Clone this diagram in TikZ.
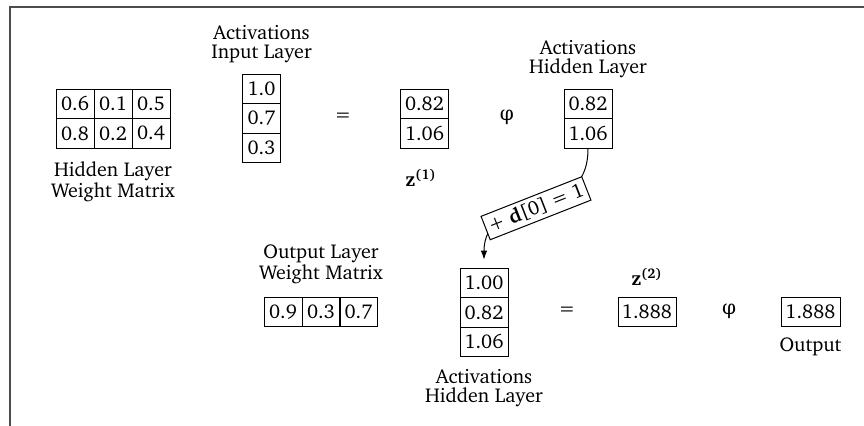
\documentclass[tikz,border=0pt]{standalone}
\usepackage{fontspec}
\newfontfamily\greekfont{DejaVu Serif}
\usepackage[T1]{fontenc}
\usepackage{charter}
\usetikzlibrary{arrows.meta}

\tikzset{
  cell/.style={draw, line width=0.5pt, rectangle, inner sep=0pt,
    minimum width=19pt, minimum height=14.8pt},
  wcell/.style={cell, minimum width=24pt},
  caption/.style={align=center, inner sep=0pt,
    font=\fontsize{10}{9.5}\selectfont},
  sym/.style={inner sep=0pt},
  tag/.style={draw, fill=white, line width=0.5pt, inner sep=1.8pt,
    minimum height=11.5pt},
  frameline/.style={draw=black!70, line width=0.8pt},
}

\begin{document}
\begin{tikzpicture}[x=0.5pt, y=-0.5pt, font=\fontsize{10}{11}\selectfont]
\useasboundingbox (0,0) rectangle (864,426);

% surrounding frame
\draw[frameline] (10,430) -- (10,7) -- (870,7);

% hidden layer weight matrix
\node[cell] (w11) at (75,104)   {0.6};
\node[cell] (w12) at (113,104)  {0.1};
\node[cell] (w13) at (151,104)  {0.5};
\node[cell] (w21) at (75,133.5) {0.8};
\node[cell] (w22) at (113,133.5){0.2};
\node[cell] (w23) at (151,133.5){0.4};
\node[caption] (wlab) at (113,182) {Hidden Layer\\Weight Matrix};

% input activations
\node[cell] (x1) at (261.5,89)    {1.0};
\node[cell] (x2) at (261.5,118.5) {0.7};
\node[cell] (x3) at (261.5,148)   {0.3};
\node[caption] (xlab) at (261.5,44) {Activations\\Input Layer};

\node[sym] (eq1) at (343,117) {=};

% pre-activation of the hidden layer
\node[wcell] (z11) at (424.5,104)   {0.82};
\node[wcell] (z12) at (424.5,133.5) {1.06};
\node[sym] (z1lab) at (421,178) {\textbf{z}\textsuperscript{\textbf{(1)}}};

\node[sym] (phi1) at (507,117) {\greekfont φ};

% hidden activations
\node[wcell] (h1) at (588,104)   {0.82};
\node[wcell] (h2) at (588,133.5) {1.06};
\node[caption] (hlab) at (588,58.5) {Activations\\Hidden Layer};

% output layer weight matrix
\node[cell] (v1) at (283,312)   {0.9};
\node[cell] (v2) at (321,312)   {0.3};
\node[cell] (v3) at (358.5,312) {0.7};
\node[caption] (vlab) at (321,264) {Output Layer\\Weight Matrix};

% hidden activations with bias entry
\node[wcell] (d1) at (484,283)   {1.00};
\node[wcell] (d2) at (484,312.5) {0.82};
\node[wcell] (d3) at (484,342)   {1.06};
\node[caption] (dlab) at (484,388) {Activations\\Hidden Layer};

\node[sym] (eq2) at (567,311) {=};

% output pre-activation
\node[cell, minimum width=29pt] (z2) at (647,312) {1.888};
\node[sym] (z2lab) at (647,277) {\textbf{z}\textsuperscript{\textbf{(2)}}};

\node[sym] (phi2) at (729,311) {\greekfont φ};

% network output
\node[cell, minimum width=29.5pt] (out) at (810.5,312) {1.888};
\node[caption] (olab) at (810.5,347) {Output};

% bias insertion
\draw[line width=0.5pt, -{Latex[length=4.5pt,width=3.2pt]}, shorten >=4pt]
  (h2.south) .. controls +(0,78) and +(0,-78) .. (d1.north)
  node[tag, midway, sloped] {+ \textbf{d}[0] = 1};
\end{tikzpicture}
\end{document}
